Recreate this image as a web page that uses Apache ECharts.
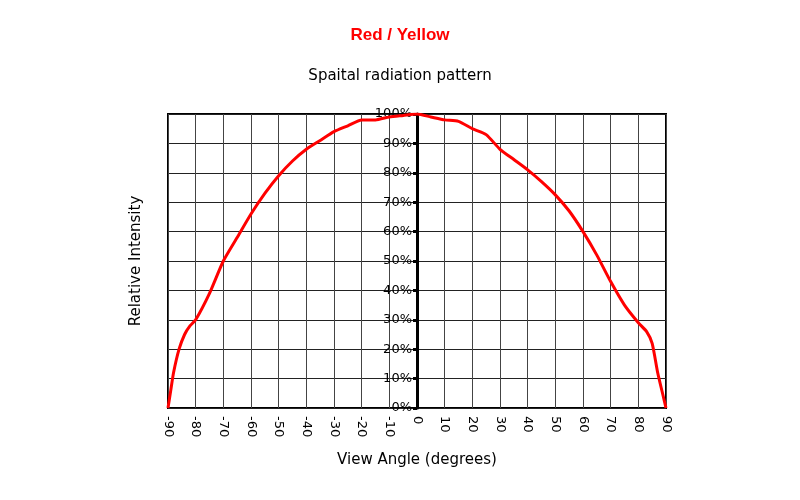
<!DOCTYPE html>
<html><head><meta charset="utf-8">
<script src="https://cdn.jsdelivr.net/npm/echarts@6/dist/echarts.min.js"></script>
<style>body{margin:0}#c{width:800px;height:500px}</style></head>
<body><div id="c"></div>
<script>
const angles = [-90,-89,-88,-86,-84,-82,-80,-75,-70,-65,-60,-55,-50,-45,-40,-35,-30,-25,-20,-15,-10,-5,0,5,10,15,20,25,30,35,40,45,50,55,60,65,70,75,80,83,85,87,89,90];
const intensity = [0,6,12,20,25,28,30,39,50,58,66,73,79,84,88,91,94,96,98,98,99,99.5,100,99,98,97.5,95,93,88,84.5,81,77,72.5,67,60,52,43,35,29,26,22,12,4,0];
const xTicks = [-90,90,10];
const chart = echarts.init(document.getElementById('c'));
const font = 'DejaVu Sans';
chart.setOption({
  animation:false,
  title:[{text:'Red / Yellow',left:'center',top:22,textStyle:{color:'#ff0000',fontSize:17,fontWeight:'bold',fontFamily:'Arial'}},
         {text:'Spaital radiation pattern',left:'center',top:64,textStyle:{color:'#000',fontSize:15,fontWeight:'normal',fontFamily:font}}],
  grid:{left:168,right:134,top:114,bottom:92,show:true,borderColor:'#000',borderWidth:2},
  xAxis:{type:'value',min:xTicks[0],max:xTicks[1],interval:xTicks[2],name:'View Angle (degrees)',nameLocation:'middle',nameGap:45,
    nameTextStyle:{fontSize:15,fontFamily:font,color:'#000'},
    axisLine:{show:false},axisTick:{show:false},
    axisLabel:{rotate:-90,fontSize:13,fontFamily:font,color:'#000',margin:8},
    splitLine:{lineStyle:{color:'#444',width:1}}},
  yAxis:[{type:'value',min:0,max:100,interval:10,position:'left',offset:-249,
    axisLine:{show:true,onZero:false,lineStyle:{color:'#000',width:3}},
    axisTick:{show:true,length:4,lineStyle:{color:'#000',width:3}},
    axisLabel:{formatter:'{value}%',fontSize:13,fontFamily:font,color:'#000',margin:5},
    splitLine:{lineStyle:{color:'#222',width:1}}},
    {type:'value',min:0,max:100,interval:10,position:'left',name:'Relative Intensity',nameLocation:'middle',nameGap:24,
    nameTextStyle:{fontSize:15,fontFamily:font,color:'#000'},
    axisLine:{show:false},axisTick:{show:false},axisLabel:{show:false},splitLine:{show:false}}],
  series:[{type:'line',data:angles.map((a,i)=>[a,intensity[i]]),showSymbol:false,smooth:0.2,
    lineStyle:{color:'#ff0000',width:3},z:1}]
});
</script></body></html>
